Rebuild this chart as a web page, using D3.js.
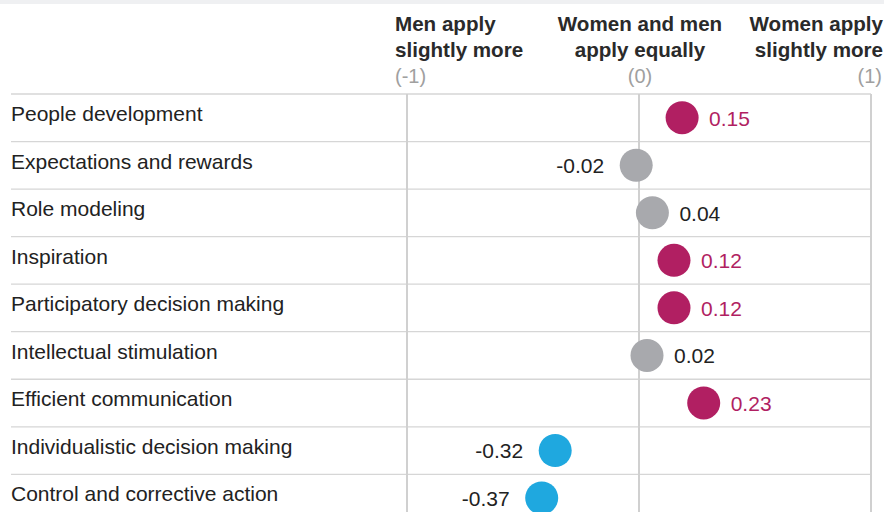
<!DOCTYPE html>
<html>
<head>
<meta charset="utf-8">
<script src="https://cdn.jsdelivr.net/npm/d3@7"></script>
<style>
  html, body { margin: 0; padding: 0; background: #fff; }
  svg { display: block; font-family: "Liberation Sans", Arial, Helvetica, sans-serif; }
</style>
</head>
<body>
<svg id="chart" width="884" height="512"></svg>
<script>
const categories = [
  "People development",
  "Expectations and rewards",
  "Role modeling",
  "Inspiration",
  "Participatory decision making",
  "Intellectual stimulation",
  "Efficient communication",
  "Individualistic decision making",
  "Control and corrective action"
];
const values = [0.15, -0.02, 0.04, 0.12, 0.12, 0.02, 0.23, -0.32, -0.37];
const groups = ["women", "neutral", "neutral", "women", "women", "neutral", "women", "men", "men"];
const headerTicks = [-1, 0, 1];
const headerLines = [["Men apply", "slightly more"], ["Women and men", "apply equally"], ["Women apply", "slightly more"]];
const tickLabels = ["(-1)", "(0)", "(1)"];

const dotColor = { women: "#b11f62", neutral: "#a8a9ad", men: "#1fa8df" };
const labelColor = { women: "#b11f62", neutral: "#222222", men: "#222222" };

const svg = d3.select("#chart");

// top band
svg.append("rect").attr("x", 0).attr("y", 0).attr("width", 884).attr("height", 4).attr("fill", "#eff0f2");

const rowTop = 94, rowH = 47.54;
const y = d3.scaleBand().domain(categories).range([rowTop, rowTop + rowH * categories.length]).padding(0);
const xGrid = d3.scaleLinear().domain([-1, 1]).range([407, 871]);
const xDot = d3.scaleLinear().domain([-1, 1]).range([371.6, 911.6]);

// horizontal row lines
svg.append("g").selectAll("line").data(categories).join("line")
  .attr("x1", 11).attr("x2", xGrid(1))
  .attr("y1", d => y(d)).attr("y2", d => y(d))
  .attr("stroke", "#d6d6d6").attr("stroke-width", 1.3);

// vertical grid lines
svg.append("g").selectAll("line").data(headerTicks).join("line")
  .attr("x1", d => xGrid(d)).attr("x2", d => xGrid(d))
  .attr("y1", rowTop).attr("y2", 512)
  .attr("stroke", "#d0d0d0").attr("stroke-width", 2);

// header
const anchors = ["start", "middle", "end"];
const hx = [395, 640, 883];
const header = svg.append("g");
headerTicks.forEach((t, i) => {
  const tx = i === 1 ? xGrid(t) + 1 : hx[i];
  headerLines[i].forEach((ln, j) => {
    header.append("text")
      .attr("x", tx).attr("y", 31 + j * 26)
      .attr("text-anchor", anchors[i])
      .attr("font-size", 20.6).attr("font-weight", "bold").attr("fill", "#2a2a2a")
      .text(ln);
  });
  header.append("text")
    .attr("x", i === 2 ? 882 : tx).attr("y", 83)
    .attr("text-anchor", anchors[i])
    .attr("font-size", 20).attr("fill", "#a0a0a0")
    .text(tickLabels[i]);
});

// category labels
svg.append("g").selectAll("text").data(categories).join("text")
  .attr("x", 11).attr("y", d => y(d) + 27)
  .attr("font-size", 21).attr("fill", "#222")
  .text(d => d);

const data = categories.map((c, i) => ({ c, v: values[i], g: groups[i] }));
const cyOff = 23.7, r = 16.5;

svg.append("g").selectAll("circle").data(data).join("circle")
  .attr("cx", d => xDot(d.v)).attr("cy", d => y(d.c) + cyOff)
  .attr("r", r).attr("fill", d => dotColor[d.g]);

svg.append("g").selectAll("text").data(data).join("text")
  .attr("x", d => d.v >= 0 ? xDot(d.v) + 27 : xDot(d.v) - 32)
  .attr("y", d => y(d.c) + cyOff + 8)
  .attr("text-anchor", d => d.v >= 0 ? "start" : "end")
  .attr("font-size", 21).attr("fill", d => labelColor[d.g])
  .text(d => d.v.toFixed(2));
</script>
</body>
</html>
